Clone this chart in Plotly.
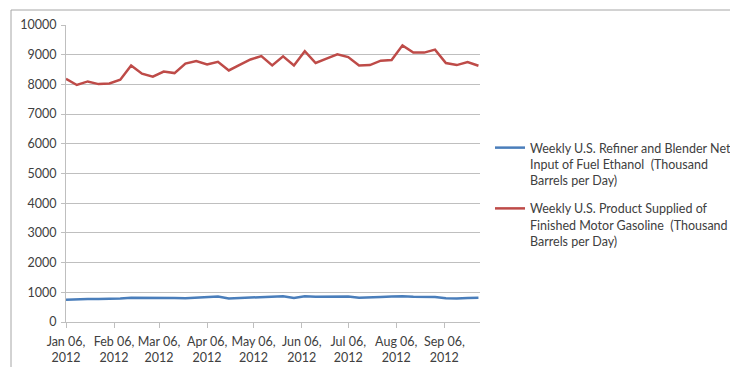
import pandas as pd
import plotly.graph_objects as go

# Weekly observations (Fridays), Jan 06 2012 through Sep 28 2012
weeks = pd.date_range("2012-01-06", periods=39, freq="7D")

# Thousand barrels per day
ethanol_input = [
    753, 770, 775, 775, 775, 790, 815, 820, 800, 825,
    810, 800, 815, 830, 855, 790, 810, 820, 840, 850,
    870, 810, 870, 850, 860, 870, 860, 815, 840, 845,
    860, 870, 850, 850, 840, 800, 790, 810, 815,
]
gasoline_supplied = [
    8190, 7980, 8100, 8010, 8030, 8160, 8640, 8360, 8260, 8430,
    8380, 8700, 8790, 8670, 8760, 8470, 8660, 8840, 8955, 8640,
    8945, 8640, 9120, 8720, 8865, 9010, 8920, 8640, 8650, 8800,
    8820, 9315, 9070, 9070, 9170, 8720, 8650, 8750, 8630,
]

ethanol_name = "Weekly U.S. Refiner and Blender Net<br>Input of Fuel Ethanol  (Thousand<br>Barrels per Day)"
gasoline_name = "Weekly U.S. Product Supplied of<br>Finished Motor Gasoline  (Thousand<br>Barrels per Day)"

tick_dates = pd.to_datetime([f"2012-{m:02d}-06" for m in range(1, 10)])
tick_text = [d.strftime("%b 06,<br>%Y") for d in tick_dates]

y_ticks = list(range(0, 10001, 1000))
y_text = [str(v) for v in y_ticks]

FONT = "Lato, 'Open Sans', sans-serif"
TEXT = "#404040"
GRID = "#BFBFBF"
FS = 12.5

fig = go.Figure()
fig.add_trace(go.Scatter(
    x=weeks, y=ethanol_input, mode="lines", name=ethanol_name,
    legendgroup="ethanol",
    line=dict(color="#4A7EBB", width=2.5),
))
fig.add_trace(go.Scatter(
    x=weeks, y=gasoline_supplied, mode="lines", name=gasoline_name,
    legendgroup="gasoline",
    line=dict(color="#BE4B48", width=2.5),
))

L, R, T, B = 66, 250, 25, 45
W, H = 730, 367
pw, ph = W - L - R, H - T - B

fig.update_layout(
    width=W, height=H,
    margin=dict(l=L, r=R, t=T, b=B, autoexpand=False),
    paper_bgcolor="white", plot_bgcolor="white",
    font=dict(family=FONT, size=FS, color=TEXT),
    showlegend=True,
    legend=dict(
        xref="container", yref="container",
        x=490 / W, y=1 - 133 / H,
        xanchor="left", yanchor="top",
        valign="top",
        font=dict(family=FONT, size=FS, color=TEXT),
        bgcolor="rgba(0,0,0,0)",
        itemwidth=30,
        tracegroupgap=9,
    ),
    xaxis=dict(
        range=[pd.Timestamp("2012-01-06"), pd.Timestamp("2012-09-29")],
        tickmode="array", tickvals=tick_dates, ticktext=tick_text,
        tickangle=0,
        showgrid=False, showline=True, linecolor=GRID, linewidth=1,
        ticks="outside", ticklen=5, tickcolor=GRID,
        tickfont=dict(family=FONT, size=FS, color=TEXT),
        ticklabelstandoff=3,
        zeroline=False, automargin=False,
    ),
    yaxis=dict(
        range=[0, 10000],
        tickmode="array", tickvals=y_ticks, ticktext=y_text,
        showgrid=True, gridcolor=GRID, gridwidth=1,
        showline=True, linecolor=GRID, linewidth=1,
        ticks="outside", ticklen=4, tickcolor=GRID,
        tickfont=dict(family=FONT, size=FS, color=TEXT),
        ticklabelstandoff=2,
        zeroline=False, automargin=False,
    ),
    shapes=[dict(
        type="rect", xref="paper", yref="paper",
        x0=(11 - L) / pw, x1=(W + 20 - L) / pw,
        y0=-(H + 20 - 322) / ph, y1=(322 - 10) / ph,
        line=dict(color="#A6A6A6", width=1),
        fillcolor="rgba(0,0,0,0)", layer="below",
    )],
)

fig.write_html("out.html")
